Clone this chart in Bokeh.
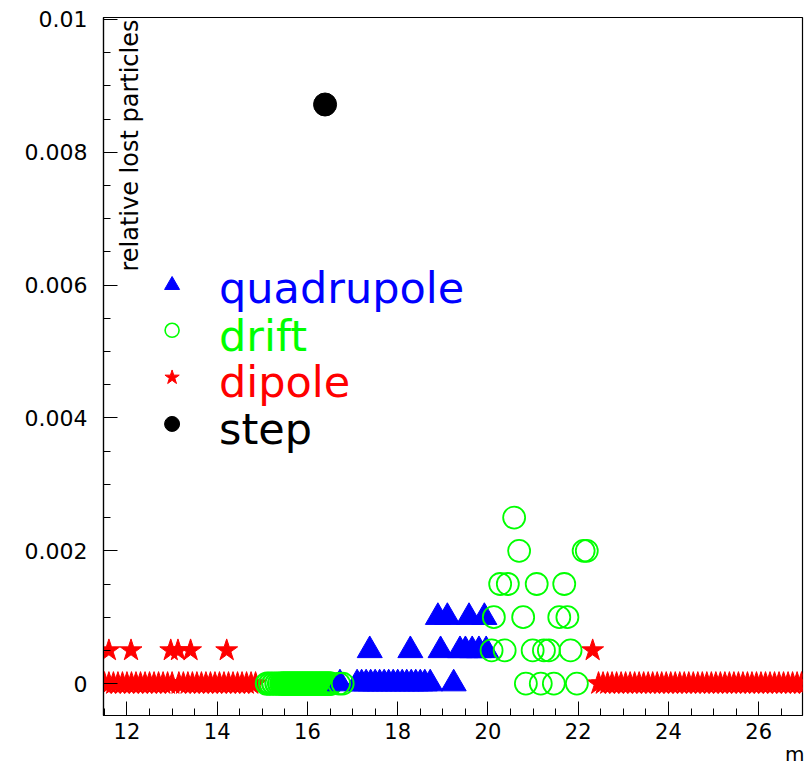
from math import pi
from bokeh.plotting import figure
from bokeh.models import Range1d, SingleIntervalTicker, FixedTicker, CustomJSTickFormatter, Label, LinearAxis
from bokeh.core.properties import value
from bokeh.embed import file_html
from bokeh.resources import INLINE

# ---------------- data ----------------
zero_loss = 0.0

# dipole elements without losses (positions, m)
dipole_zero_s = [11.50, 11.60, 11.70, 11.80, 11.90, 12.00, 12.10, 12.20, 12.30, 12.40,
                 12.50, 12.60, 12.70, 12.80, 12.90, 13.00, 13.15, 13.25, 13.35, 13.45,
                 13.55, 13.65, 13.75, 13.85, 13.95, 14.05, 14.15, 14.25, 14.35, 14.45,
                 14.55, 14.65, 14.75, 14.85,
                 22.45, 22.55, 22.65, 22.75, 22.85, 22.95, 23.05, 23.15, 23.25, 23.35,
                 23.45, 23.55, 23.65, 23.75, 23.85, 23.95, 24.05, 24.15, 24.25, 24.35,
                 24.45, 24.55, 24.65, 24.75, 24.85, 24.95, 25.05, 25.15, 25.25, 25.35,
                 25.45, 25.55, 25.65, 25.75, 25.85, 25.95, 26.05, 26.15, 26.25, 26.35,
                 26.45, 26.55, 26.65, 26.75, 26.85, 26.95, 27.05]
# dipole elements with losses
dipole_s = [11.60, 12.09, 12.97, 13.13, 13.41, 14.21, 22.32]
dipole_loss = [0.0005, 0.0005, 0.0005, 0.0005, 0.0005, 0.0005, 0.0005]

# drift elements without losses (dense section)
drift_zero_s = [15.10, 15.17, 15.24, 15.31, 15.37, 15.420, 15.445, 15.470, 15.495, 15.520,
                15.545, 15.570, 15.595, 15.620, 15.645, 15.670, 15.695, 15.720, 15.745,
                15.770, 15.795, 15.820, 15.845, 15.870, 15.895, 15.920, 15.945, 15.970,
                15.995, 16.020, 16.045, 16.070, 16.095, 16.120, 16.145, 16.170, 16.195,
                16.220, 16.245, 16.270, 16.295, 16.320, 16.345, 16.370, 16.395, 16.420,
                16.445, 16.470, 16.495, 16.520]
# other drift elements
drift_s = [16.70, 16.78, 20.84, 21.17, 21.46, 21.97,
           20.08, 20.37, 20.99, 21.24, 21.35, 21.83,
           20.13, 20.78, 21.58, 21.76,
           20.27, 20.44, 21.08, 21.69,
           20.69, 22.12, 22.19,
           20.58]
drift_loss = [0.0, 0.0, 0.0, 0.0, 0.0, 0.0,
              0.0005, 0.0005, 0.0005, 0.0005, 0.0005, 0.0005,
              0.001, 0.001, 0.001, 0.001,
              0.0015, 0.0015, 0.0015, 0.0015,
              0.002, 0.002, 0.002,
              0.0025]

# quadrupole elements
quad_s = [16.72, 17.10, 17.20, 17.30, 17.40, 17.50, 17.60, 17.70, 17.80, 17.90,
          18.00, 18.10, 18.20, 18.30, 18.40, 18.50, 18.60, 18.72, 19.24,
          17.38, 18.28, 18.95, 19.38, 19.50, 19.65, 19.80, 19.96,
          18.89, 19.10, 19.58, 19.92]
quad_loss = [0.0, 0.0, 0.0, 0.0, 0.0, 0.0, 0.0, 0.0, 0.0, 0.0,
             0.0, 0.0, 0.0, 0.0, 0.0, 0.0, 0.0, 0.0, 0.0,
             0.0005, 0.0005, 0.0005, 0.0005, 0.0005, 0.0005, 0.0005, 0.0005,
             0.001, 0.001, 0.001, 0.001]

# step
step_s = [16.39]
step_loss = [0.00872]

# legend
legend_labels = ["quadrupole", "drift", "dipole", "step"]
legend_colors = ["#0000ff", "#00ff00", "#ff0000", "#000000"]
legend_marker_x = 13.0
legend_marker_y = [0.00600, 0.00532, 0.00461, 0.00391]
legend_text_x = [14.04, 14.04, 14.04, 14.04]
legend_text_y = [0.00595, 0.00524, 0.00454, 0.00384]

x_title = "m"
x_title_pos = 26.80
y_title = "relative lost particles"

BLUE, GREEN, RED = "#0000ff", "#00ff00", "#ff0000"
FONT = "DejaVu Sans"

p = figure(width=807, height=768,
           x_range=Range1d(11.48, 26.97), y_range=Range1d(-0.00048, 0.01003),
           output_backend="svg", toolbar_location=None,
           min_border_left=103, min_border_right=5, min_border_top=17, min_border_bottom=53)
p.grid.visible = False
p.background_fill_color = "white"
p.border_fill_color = "white"
p.outline_line_color = "black"
p.outline_line_width = 1.2

for ax in (p.xaxis[0], p.yaxis[0]):
    ax.axis_line_color = "black"
    ax.axis_line_width = 1.2
    ax.major_tick_in = 14
    ax.major_tick_out = 0
    ax.minor_tick_in = 7
    ax.minor_tick_out = 0
    ax.major_tick_line_color = "black"
    ax.minor_tick_line_color = "black"
    ax.major_label_text_font = FONT
    ax.major_label_text_color = "black"

p.xaxis.major_label_text_font_size = "21px"
p.yaxis.major_label_text_font_size = "22px"
p.xaxis.ticker = SingleIntervalTicker(interval=2, num_minor_ticks=4)
p.yaxis.ticker = SingleIntervalTicker(interval=0.002, num_minor_ticks=4)
p.yaxis.formatter = CustomJSTickFormatter(code="return Number(tick.toFixed(4)).toString();")
p.xaxis.major_label_standoff = 7
p.yaxis.major_label_standoff = 16

# x-axis title "m" at the right end, below the tick labels
title_axis = LinearAxis(ticker=FixedTicker(ticks=[x_title_pos]),
                        major_label_overrides={x_title_pos: x_title},
                        axis_line_color=None, major_tick_line_color=None,
                        minor_tick_line_color=None, major_tick_in=0, major_tick_out=0,
                        major_label_standoff=0, major_label_text_font=FONT,
                        major_label_text_font_size="20px", major_label_text_color="black")
p.add_layout(title_axis, "below")

# marks
p.scatter(dipole_zero_s, zero_loss, marker="star", size=24,
          fill_color=RED, line_color=RED, line_width=1)
p.scatter(dipole_s, dipole_loss, marker="star", size=23,
          fill_color=RED, line_color=RED, line_width=1)
p.scatter(drift_zero_s, zero_loss, marker="circle", size=22,
          fill_color=None, line_color=GREEN, line_width=2.2)
p.scatter(quad_s, quad_loss, marker="triangle", size=25,
          fill_color=BLUE, line_color=BLUE, line_width=1)
p.scatter(drift_s, drift_loss, marker="circle", size=22,
          fill_color=None, line_color=GREEN, line_width=1.8)
p.scatter(step_s, step_loss, marker="circle", size=23,
          fill_color="black", line_color="black")

# legend
p.scatter([legend_marker_x], legend_marker_y[0:1], marker="triangle", size=15,
          fill_color=BLUE, line_color=BLUE)
p.scatter([legend_marker_x], legend_marker_y[1:2], marker="circle", size=14,
          fill_color=None, line_color=GREEN, line_width=1.6)
p.scatter([legend_marker_x], legend_marker_y[2:3], marker="star", size=15,
          fill_color=RED, line_color=RED)
p.scatter([legend_marker_x], legend_marker_y[3:4], marker="circle", size=15,
          fill_color="black", line_color="black")
p.text(x=legend_text_x, y=legend_text_y, text=legend_labels, text_color=legend_colors,
       text_font=value(FONT), text_font_size=value("43px"), text_baseline="alphabetic",
       text_align="left")

# y-axis title, inside the frame
p.add_layout(Label(x=12.06, y=0.0100, text=y_title, angle=pi / 2,
                   text_align="right", text_baseline="alphabetic",
                   text_font=FONT, text_font_size="24px", text_color="black"))

open("out.html", "w").write(file_html(p, INLINE))
